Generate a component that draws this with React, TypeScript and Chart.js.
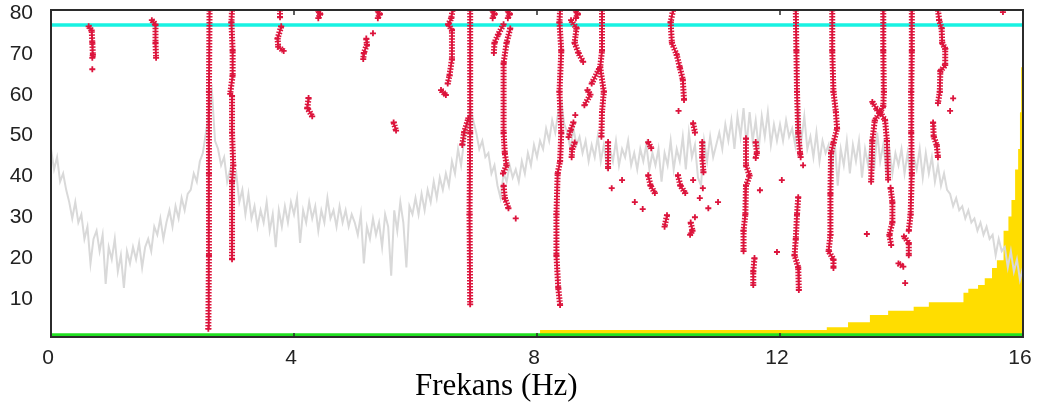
import React, { useEffect, useRef } from "react";
import { Chart, registerables } from "chart.js";

Chart.register(...registerables);

// ---------- data ----------
const xTickValues = [0, 4, 8, 12, 16];
const yTickValues = [10, 20, 30, 40, 50, 60, 70, 80];

const grayStartHz = 0;
const grayStepHz = 0.05;
// light grey spectrum, one row per Hz (0.05 Hz step)
const grayValues = [
  46, 41, 44, 38, 40, 36, 33, 29, 33, 28, 30, 24, 27, 18, 24, 26, 21, 25, 13, 22, // 0
  19, 24, 16, 20, 12, 21, 18, 22, 19, 23, 17, 22, 24, 21, 27, 25, 29, 24, 28, 31, // 1
  27, 32, 29, 34, 31, 35, 36, 40, 38, 43, 45, 50, 55, 60, 48, 46, 42, 44, 38, 41, // 2
  37, 40, 33, 36, 30, 35, 29, 32, 27, 31, 28, 33, 26, 30, 22, 31, 27, 32, 28, 33, // 3
  30, 34, 23, 31, 28, 33, 29, 32, 26, 31, 28, 34, 29, 31, 27, 32, 28, 31, 27, 30, // 4
  28, 25, 30, 18, 27, 24, 29, 25, 28, 22, 30, 27, 15, 31, 26, 33, 28, 17, 32, 30, // 5
  34, 30, 35, 31, 36, 33, 38, 34, 39, 36, 40, 37, 43, 40, 46, 42, 48, 52, 56, 53, // 6
  50, 46, 48, 44, 45, 40, 42, 37, 34, 40, 38, 42, 39, 41, 38, 43, 40, 45, 42, 47, // 7
  44, 48, 46, 51, 48, 53, 50, 55, 57, 52, 50, 46, 51, 47, 49, 45, 48, 43, 47, 44, // 8
  49, 43, 47, 42, 46, 43, 48, 42, 46, 44, 48, 42, 45, 41, 46, 43, 47, 41, 45, 42, // 9
  46, 38, 45, 42, 48, 41, 46, 43, 49, 41, 50, 44, 47, 39, 37, 48, 43, 49, 44, 47, // 10
  50, 46, 52, 48, 53, 46, 54, 49, 56, 47, 55, 48, 53, 46, 54, 49, 55, 47, 52, 48, // 11
  52, 48, 53, 49, 51, 47, 56, 48, 54, 46, 49, 44, 50, 43, 48, 45, 47, 40, 48, 37, // 12
  46, 42, 48, 40, 47, 43, 48, 39, 46, 42, 49, 41, 50, 43, 47, 41, 46, 40, 45, 42, // 13
  46, 40, 45, 39, 44, 41, 46, 39, 45, 40, 44, 38, 42, 37, 40, 36, 35, 32, 34, 31, // 14
  32, 29, 31, 28, 29, 26, 28, 25, 27, 24, 25, 20, 24, 21, 22, 17, 21, 16, 19, 14, // 15
  17,
];

// crimson peak tracks: each list is one track of [Hz, value] points
const redTracks: number[][][] = [
  [[0.62, 76], [0.67, 75], [0.68, 72], [0.69, 69], [0.68, 68.3]],
  [[0.68, 65.5]],
  [[1.66, 77.5], [1.72, 76.5], [1.72, 72], [1.73, 68.3]],
  [[2.61, 80], [2.6, 60], [2.6, 40], [2.6, 20], [2.59, 2]],
  [[2.98, 80], [2.97, 77], [2.99, 70], [2.99, 64], [2.95, 59.5]],
  [[2.98, 59], [2.98, 50], [3.0, 42], [2.98, 38], [2.98, 19]],
  [[3.77, 80], [3.77, 78.2]],
  [[3.79, 76], [3.73, 73], [3.74, 71], [3.83, 70]],
  [[4.4, 79.8], [4.43, 79], [4.4, 78]],
  [[5.38, 79.8], [5.41, 79], [5.38, 78]],
  [[5.3, 74.3]],
  [[5.19, 73], [5.2, 71.5], [5.15, 69.5], [5.14, 68]],
  [[4.24, 58.5], [4.22, 56], [4.3, 54]],
  [[5.64, 52.5], [5.68, 50.5]],
  [[6.61, 80], [6.59, 78], [6.54, 76.5], [6.6, 75], [6.6, 68], [6.56, 64], [6.53, 62]],
  [[6.42, 60.4], [6.5, 59.2]],
  [[6.9, 80], [6.9, 50], [6.89, 30], [6.9, 8]],
  [[6.77, 47], [6.8, 50], [6.87, 53.5]],
  [[7.27, 79.8], [7.3, 79], [7.27, 78]],
  [[7.45, 76.5], [7.36, 74], [7.3, 72], [7.29, 69.5]],
  [[7.52, 79.8], [7.55, 79], [7.52, 78]],
  [[7.56, 75.5], [7.5, 72], [7.45, 67], [7.45, 50], [7.47, 45], [7.5, 42], [7.44, 40]],
  [[7.45, 37], [7.47, 34], [7.53, 31.5]],
  [[7.65, 29]],
  [[8.38, 80], [8.37, 77], [8.4, 70], [8.37, 60], [8.4, 50], [8.38, 43], [8.34, 40], [8.32, 30], [8.32, 20], [8.35, 12], [8.38, 7.8]],
  [[8.64, 79.8], [8.67, 79], [8.64, 78]],
  [[8.56, 77.5], [8.65, 75.5], [8.62, 72], [8.68, 69.5], [8.76, 67.3]],
  [[9.07, 80], [9.07, 70], [9.04, 66], [9.1, 60], [9.07, 55], [9.06, 49]],
  [[9.02, 65.5], [8.9, 62]],
  [[8.83, 60.4], [8.88, 59.3], [8.78, 56.7]],
  [[8.63, 54.3]],
  [[8.6, 52.5], [8.55, 50.5], [8.52, 48.9]],
  [[8.62, 47.6], [8.58, 46], [8.57, 44]],
  [[9.17, 47.7], [9.17, 41.3]],
  [[10.24, 80], [10.2, 77], [10.22, 72], [10.3, 69], [10.35, 66], [10.4, 63], [10.42, 58]],
  [[10.33, 55.3]],
  [[10.57, 52.3], [10.6, 50]],
  [[9.83, 47.7], [9.88, 46.2]],
  [[10.72, 47.7], [10.72, 44], [10.74, 40.3]],
  [[9.83, 39.6], [9.87, 37], [9.94, 35.2]],
  [[10.32, 39.6], [10.36, 37], [10.44, 35.2]],
  [[10.14, 29.8], [10.1, 27]],
  [[10.53, 28], [10.56, 26], [10.52, 25]],
  [[10.57, 38.4]], [[10.73, 36.4]], [[10.68, 34]], [[10.82, 31.5]], [[10.98, 33]],
  [[9.4, 38.4]], [[9.23, 36.4]], [[9.61, 33]], [[9.74, 31.3]], [[10.6, 29.3]],
  [[11.44, 48.6], [11.44, 42], [11.5, 39.5], [11.44, 37], [11.43, 30], [11.4, 26], [11.4, 21]],
  [[11.58, 19.3], [11.56, 16], [11.56, 12.7]],
  [[11.6, 47.7], [11.62, 45], [11.6, 43.8]],
  [[11.67, 35.9]], [[12.03, 38.4]], [[11.95, 20.8]], [[12.38, 42]],
  [[12.26, 80], [12.27, 70], [12.28, 60], [12.3, 50], [12.33, 45], [12.34, 44]],
  [[12.3, 34.2], [12.28, 30], [12.26, 24], [12.24, 20], [12.3, 17], [12.31, 11.5]],
  [[12.86, 80], [12.86, 70], [12.88, 60], [12.92, 55], [12.94, 51], [12.88, 47.5], [12.84, 45], [12.83, 35], [12.83, 25], [12.8, 21], [12.88, 19], [12.88, 16.9]],
  [[13.7, 80], [13.7, 70], [13.71, 60], [13.7, 56.5], [13.65, 55], [13.56, 53], [13.52, 48], [13.5, 38]],
  [[13.65, 55], [13.73, 53], [13.76, 48], [13.78, 38.5]],
  [[13.52, 57.5], [13.6, 55.5]],
  [[13.82, 36.5], [13.85, 33], [13.85, 28], [13.8, 25], [13.83, 22.5]],
  [[13.43, 25.2]],
  [[14.17, 80], [14.17, 70], [14.16, 60], [14.16, 50], [14.17, 40], [14.15, 30], [14.12, 26]],
  [[14.04, 24.6], [14.12, 23], [14.12, 20]],
  [[13.95, 18], [14.03, 17.2]],
  [[14.06, 13.2]],
  [[14.6, 80], [14.62, 77.5], [14.66, 75.5], [14.67, 72], [14.72, 70.5], [14.72, 66.5], [14.64, 65], [14.63, 60], [14.6, 57.2]],
  [[14.85, 58.4]], [[14.8, 55.3]],
  [[14.52, 52.5], [14.53, 49], [14.58, 47], [14.6, 44]],
  [[15.67, 79.5]],
];

// yellow stepped area: value holds from each start Hz to the next
const yellowHz = [8.05, 12.77, 13.12, 13.48, 13.78, 14.2, 14.45, 15.02, 15.1, 15.26, 15.37, 15.49, 15.57, 15.68, 15.76, 15.81, 15.87, 15.92, 15.95, 15.97, 15.99, 16];
const yellowValues = [1.7, 2.4, 3.6, 5.4, 6.4, 7.4, 8.5, 10.8, 11.8, 12.7, 14.4, 16.9, 18.8, 26, 29.5, 33.5, 41, 46, 55, 66, 76, 76];

const cyanLevel = 76.3;
const greenLevel = 0.55;
const xTitle = "Frekans (Hz)";

// ---------- component ----------
const framePlugin = {
  id: "frame",
  afterDatasetsDraw(chart: any) {
    const { ctx, chartArea, scales } = chart;
    const { left, right, top, bottom } = chartArea;
    ctx.save();
    ctx.strokeStyle = "#2b2b2b";
    ctx.lineWidth = 2;
    ctx.strokeRect(left, top, right - left, bottom - top);
    ctx.lineWidth = 1.5;
    xTickValues.forEach((v) => {
      const px = scales.x.getPixelForValue(v);
      ctx.beginPath();
      ctx.moveTo(px, top);
      ctx.lineTo(px, top + 5);
      ctx.moveTo(px, bottom);
      ctx.lineTo(px, bottom - 4);
      ctx.stroke();
    });
    ctx.restore();
  },
};

export default function App() {
  const ref = useRef<HTMLCanvasElement | null>(null);

  useEffect(() => {
    if (!ref.current) return;
    const grayData = grayValues.map((v, i) => ({ x: grayStartHz + i * grayStepHz, y: v }));
    const redData: any[] = [];
    redTracks.forEach((track) => {
      track.forEach(([x, y]) => redData.push({ x, y }));
      const last = track[track.length - 1];
      redData.push({ x: last[0], y: null });
    });
    const yellowData = yellowHz.map((x, i) => ({ x, y: yellowValues[i] }));
    const red = "#DC143C";
    const tickFont = { family: "'Liberation Sans', Arial, sans-serif", size: 21 };

    const chart = new Chart(ref.current, {
      type: "line",
      data: {
        datasets: [
          {
            data: redData,
            borderColor: red,
            borderWidth: 2,
            pointStyle: "cross",
            pointRadius: 3,
            pointBorderWidth: 1.8,
            pointBorderColor: red,
            spanGaps: false,
            order: 0,
          } as any,
          {
            data: redData,
            borderColor: red,
            borderWidth: 6,
            borderDash: [1.5, 1.5],
            pointRadius: 0,
            spanGaps: false,
            order: 0,
          } as any,
          {
            data: [{ x: 0, y: cyanLevel }, { x: 16, y: cyanLevel }],
            borderColor: "#18F2E2",
            borderWidth: 3.5,
            pointRadius: 0,
            order: 1,
          },
          {
            data: grayData,
            borderColor: "#D9D9D9",
            borderWidth: 2,
            pointRadius: 0,
            order: 2,
          },
          {
            data: [{ x: 0, y: greenLevel }, { x: 16, y: greenLevel }],
            borderColor: "#22E022",
            borderWidth: 3,
            pointRadius: 0,
            order: 3,
          },
          {
            data: yellowData,
            borderColor: "#FFDD00",
            backgroundColor: "#FFDD00",
            borderWidth: 0,
            stepped: true,
            fill: "origin",
            pointRadius: 0,
            order: 4,
          },
        ],
      },
      options: {
        animation: false,
        responsive: false,
        maintainAspectRatio: false,
        events: [],
        layout: { padding: { top: 10, right: 18, bottom: 0, left: 0 } },
        plugins: { legend: { display: false }, tooltip: { enabled: false } },
        scales: {
          x: {
            type: "linear",
            min: 0,
            max: 16,
            afterBuildTicks: (s: any) => {
              s.ticks = xTickValues.map((v) => ({ value: v }));
            },
            afterFit: (s: any) => {
              s.height = 71;
              s.paddingLeft = 0;
              s.paddingRight = 0;
            },
            grid: { display: false, drawTicks: false },
            border: { display: false },
            ticks: { font: tickFont, color: "#222", padding: 9, labelOffset: -3, maxRotation: 0 },
          },
          y: {
            type: "linear",
            min: 0,
            max: 80,
            afterBuildTicks: (s: any) => {
              s.ticks = yTickValues.map((v) => ({ value: v }));
            },
            afterFit: (s: any) => {
              s.width = 51;
              s.paddingTop = 0;
              s.paddingBottom = 0;
            },
            grid: { display: false, drawTicks: false },
            border: { display: false },
            ticks: { font: tickFont, color: "#222", padding: 18, labelOffset: 3 },
          },
        },
      } as any,
      plugins: [framePlugin],
    });
    return () => chart.destroy();
  }, []);

  return (
    <div>
      <canvas
        ref={ref}
        width={1041}
        height={408}
        style={{ position: "fixed", left: 0, top: 0, width: 1041, height: 408 }}
      />
      <div
        style={{
          position: "fixed",
          left: 415,
          top: 367,
          fontFamily: "'Liberation Serif', 'Times New Roman', serif",
          fontSize: 31,
          whiteSpace: "nowrap",
          color: "#000",
        }}
      >
        {xTitle}
      </div>
    </div>
  );
}
